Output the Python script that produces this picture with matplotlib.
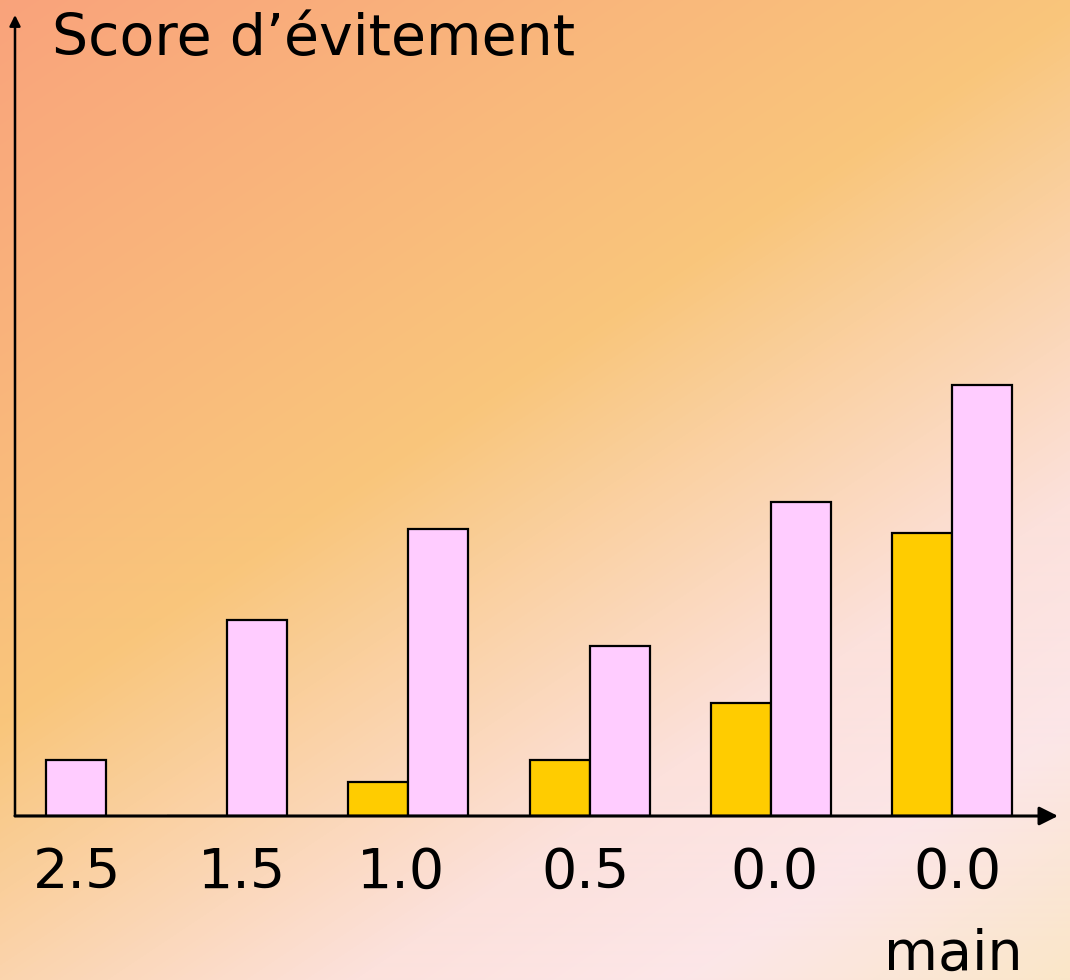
import matplotlib.pyplot as plt
import numpy as np
from matplotlib.colors import LinearSegmentedColormap

# Avoidance scores per group (yellow = first condition, pink = second)
groups = ["2.5", "1.5", "1.0", "0.5", "0.0", "0.0"]
sublabels = ["", "", "", "", "", "main"]
yellow_scores = [0.0, 0.0, 0.34, 0.56, 1.13, 2.83]
pink_scores = [0.56, 1.96, 2.87, 1.70, 3.14, 4.31]
label_shift = [0.17, 0.08, -0.04, -0.02, 0.02, 0.03]

W, H = 1070, 980
fig = plt.figure(figsize=(W / 100, H / 100), dpi=100)

# diagonal warm gradient behind everything
bg = fig.add_axes([0, 0, 1, 1], zorder=-10)
yy, xx = np.mgrid[0:H, 0:W]
t = (xx + 1.5 * yy) / (W + 1.5 * H)
cmap = LinearSegmentedColormap.from_list("warm", [
    (0.0, "#F9A37B"), (0.43, "#F9C67C"), (0.72, "#FCE1DC"),
    (0.85, "#FCE6E8"), (1.0, "#FAE6C8")])
bg.imshow(t, cmap=cmap, aspect="auto", extent=[0, 1, 0, 1], origin="upper")
bg.axis("off")

ax = fig.add_axes([15 / W, (H - 816) / H, (1058 - 15) / W, (816 - 15) / H])
ax.patch.set_alpha(0)
x = np.arange(len(groups))
w = 0.331
ax.bar(x - w / 2, yellow_scores, w, color="#FFCC00", edgecolor="black", linewidth=1.6)
ax.bar(x + w / 2, pink_scores, w, color="#FFCCFF", edgecolor="black", linewidth=1.6)
ax.set_xlim(-0.171, 5.585)
ax.set_ylim(0, 8.01)
for s in ax.spines.values():
    s.set_visible(False)
ax.set_xticks([])
ax.set_yticks([])

# axes drawn as arrows
ax.annotate("", xy=(1, 0), xytext=(0, 0), xycoords="axes fraction",
            arrowprops=dict(arrowstyle="-|>", color="black", lw=2.2,
                            mutation_scale=28, shrinkA=0, shrinkB=0))
ax.annotate("", xy=(0, 1), xytext=(0, 0), xycoords="axes fraction",
            arrowprops=dict(arrowstyle="-|>", color="black", lw=1.8,
                            mutation_scale=16, shrinkA=0, shrinkB=0))

for i, lab in enumerate(groups):
    ax.text(i + label_shift[i], -0.57, lab, ha="center", va="center", fontsize=40)
    if sublabels[i]:
        ax.text(i + label_shift[i] - 0.02, -1.39, sublabels[i], ha="center",
                va="center", fontsize=40)

fig.text(52 / W, 1 - 40 / H, "Score d\u2019évitement", fontsize=41,
         ha="left", va="center")

fig.savefig("out.png", dpi=100)
